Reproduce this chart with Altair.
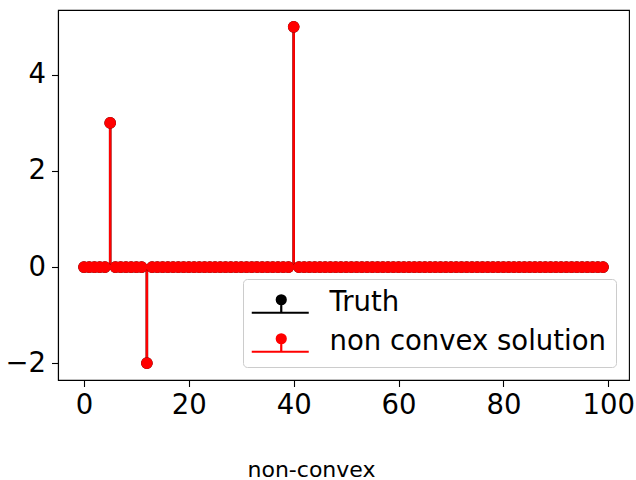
import altair as alt
import pandas as pd

# ---- data ----
x_index = list(range(100))
truth_values = [
    0, 0, 0, 0, 0, 3, 0, 0, 0, 0,
    0, 0, -2, 0, 0, 0, 0, 0, 0, 0,
    0, 0, 0, 0, 0, 0, 0, 0, 0, 0,
    0, 0, 0, 0, 0, 0, 0, 0, 0, 0,
    5, 0, 0, 0, 0, 0, 0, 0, 0, 0,
    0, 0, 0, 0, 0, 0, 0, 0, 0, 0,
    0, 0, 0, 0, 0, 0, 0, 0, 0, 0,
    0, 0, 0, 0, 0, 0, 0, 0, 0, 0,
    0, 0, 0, 0, 0, 0, 0, 0, 0, 0,
    0, 0, 0, 0, 0, 0, 0, 0, 0, 0,
]
solution_values = [
    0, 0, 0, 0, 0, 3, 0, 0, 0, 0,
    0, 0, -2, 0, 0, 0, 0, 0, 0, 0,
    0, 0, 0, 0, 0, 0, 0, 0, 0, 0,
    0, 0, 0, 0, 0, 0, 0, 0, 0, 0,
    5, 0, 0, 0, 0, 0, 0, 0, 0, 0,
    0, 0, 0, 0, 0, 0, 0, 0, 0, 0,
    0, 0, 0, 0, 0, 0, 0, 0, 0, 0,
    0, 0, 0, 0, 0, 0, 0, 0, 0, 0,
    0, 0, 0, 0, 0, 0, 0, 0, 0, 0,
    0, 0, 0, 0, 0, 0, 0, 0, 0, 0,
]
series_names = ["Truth", "non convex solution"]
series_colors = ["black", "red"]
x_ticks = [0, 20, 40, 60, 80, 100]
y_ticks = [-2, 0, 2, 4]

rows = []
for name, vals in zip(series_names, [truth_values, solution_values]):
    for xi, v in zip(x_index, vals):
        rows.append({"x": xi, "value": v, "series": name})
df = pd.DataFrame(rows)

FONT = "DejaVu Sans"

# legend symbol: baseline + stem + marker (matplotlib stem legend handle)
stem_symbol = ("M-3.0,2 L8.4,2 M2.9,2 L2.9,-0.6 "
               "M2.0,-0.6 A0.9,0.9 0 1,0 3.8,-0.6 A0.9,0.9 0 1,0 2.0,-0.6 Z")

color = alt.Color(
    "series:N",
    scale=alt.Scale(domain=series_names, range=series_colors),
    legend=alt.Legend(
        title=None, orient="none", legendX=185, legendY=269,
        symbolType=stem_symbol, symbolSize=100, symbolStrokeWidth=2.2,
        labelFont=FONT, labelFontSize=27.5, labelColor="black",
        labelOffset=49, labelLimit=0, padding=10, rowPadding=9,
        fillColor="rgba(255,255,255,0.8)", strokeColor="#cccccc",
        cornerRadius=4,
    ),
)

xenc = alt.X(
    "x:Q",
    scale=alt.Scale(domain=[-4.95, 103.95], nice=False, zero=False),
    axis=alt.Axis(values=x_ticks, title="non-convex", grid=False,
                  titleX=253, titleY=96, titleBaseline="alphabetic",
                  titleAlign="center", titleAnchor=None),
)
yenc = alt.Y(
    "value:Q",
    scale=alt.Scale(domain=[-2.35, 5.35], nice=False, zero=False),
    axis=alt.Axis(values=y_ticks, title=None, grid=False),
)

stems = alt.Chart(df).mark_rule(strokeWidth=2.5).encode(
    x=xenc, y=yenc, y2=alt.datum(0), color=color
)
dots = alt.Chart(df).mark_circle(size=135, opacity=1).encode(
    x=xenc, y=yenc, color=color
)

chart = alt.layer(stems, dots).properties(
    width=571, height=370,
    autosize=alt.AutoSizeParams(type="none"),
    padding={"left": 58, "top": 10, "right": 7, "bottom": 100},
).configure_view(
    stroke="black", strokeWidth=1.1
).configure_axis(
    labelFont=FONT, labelFontSize=27.5, labelColor="black",
    titleFont=FONT, titleFontSize=22, titleFontWeight="normal", titleColor="black",
    domainColor="black", domainWidth=1.1, tickColor="black", tickWidth=1.1,
    tickSize=6.5, labelPadding=5,
).configure_axisY(labelPadding=6)

chart.save("out.html", embed_options={"renderer": "svg", "actions": False})
